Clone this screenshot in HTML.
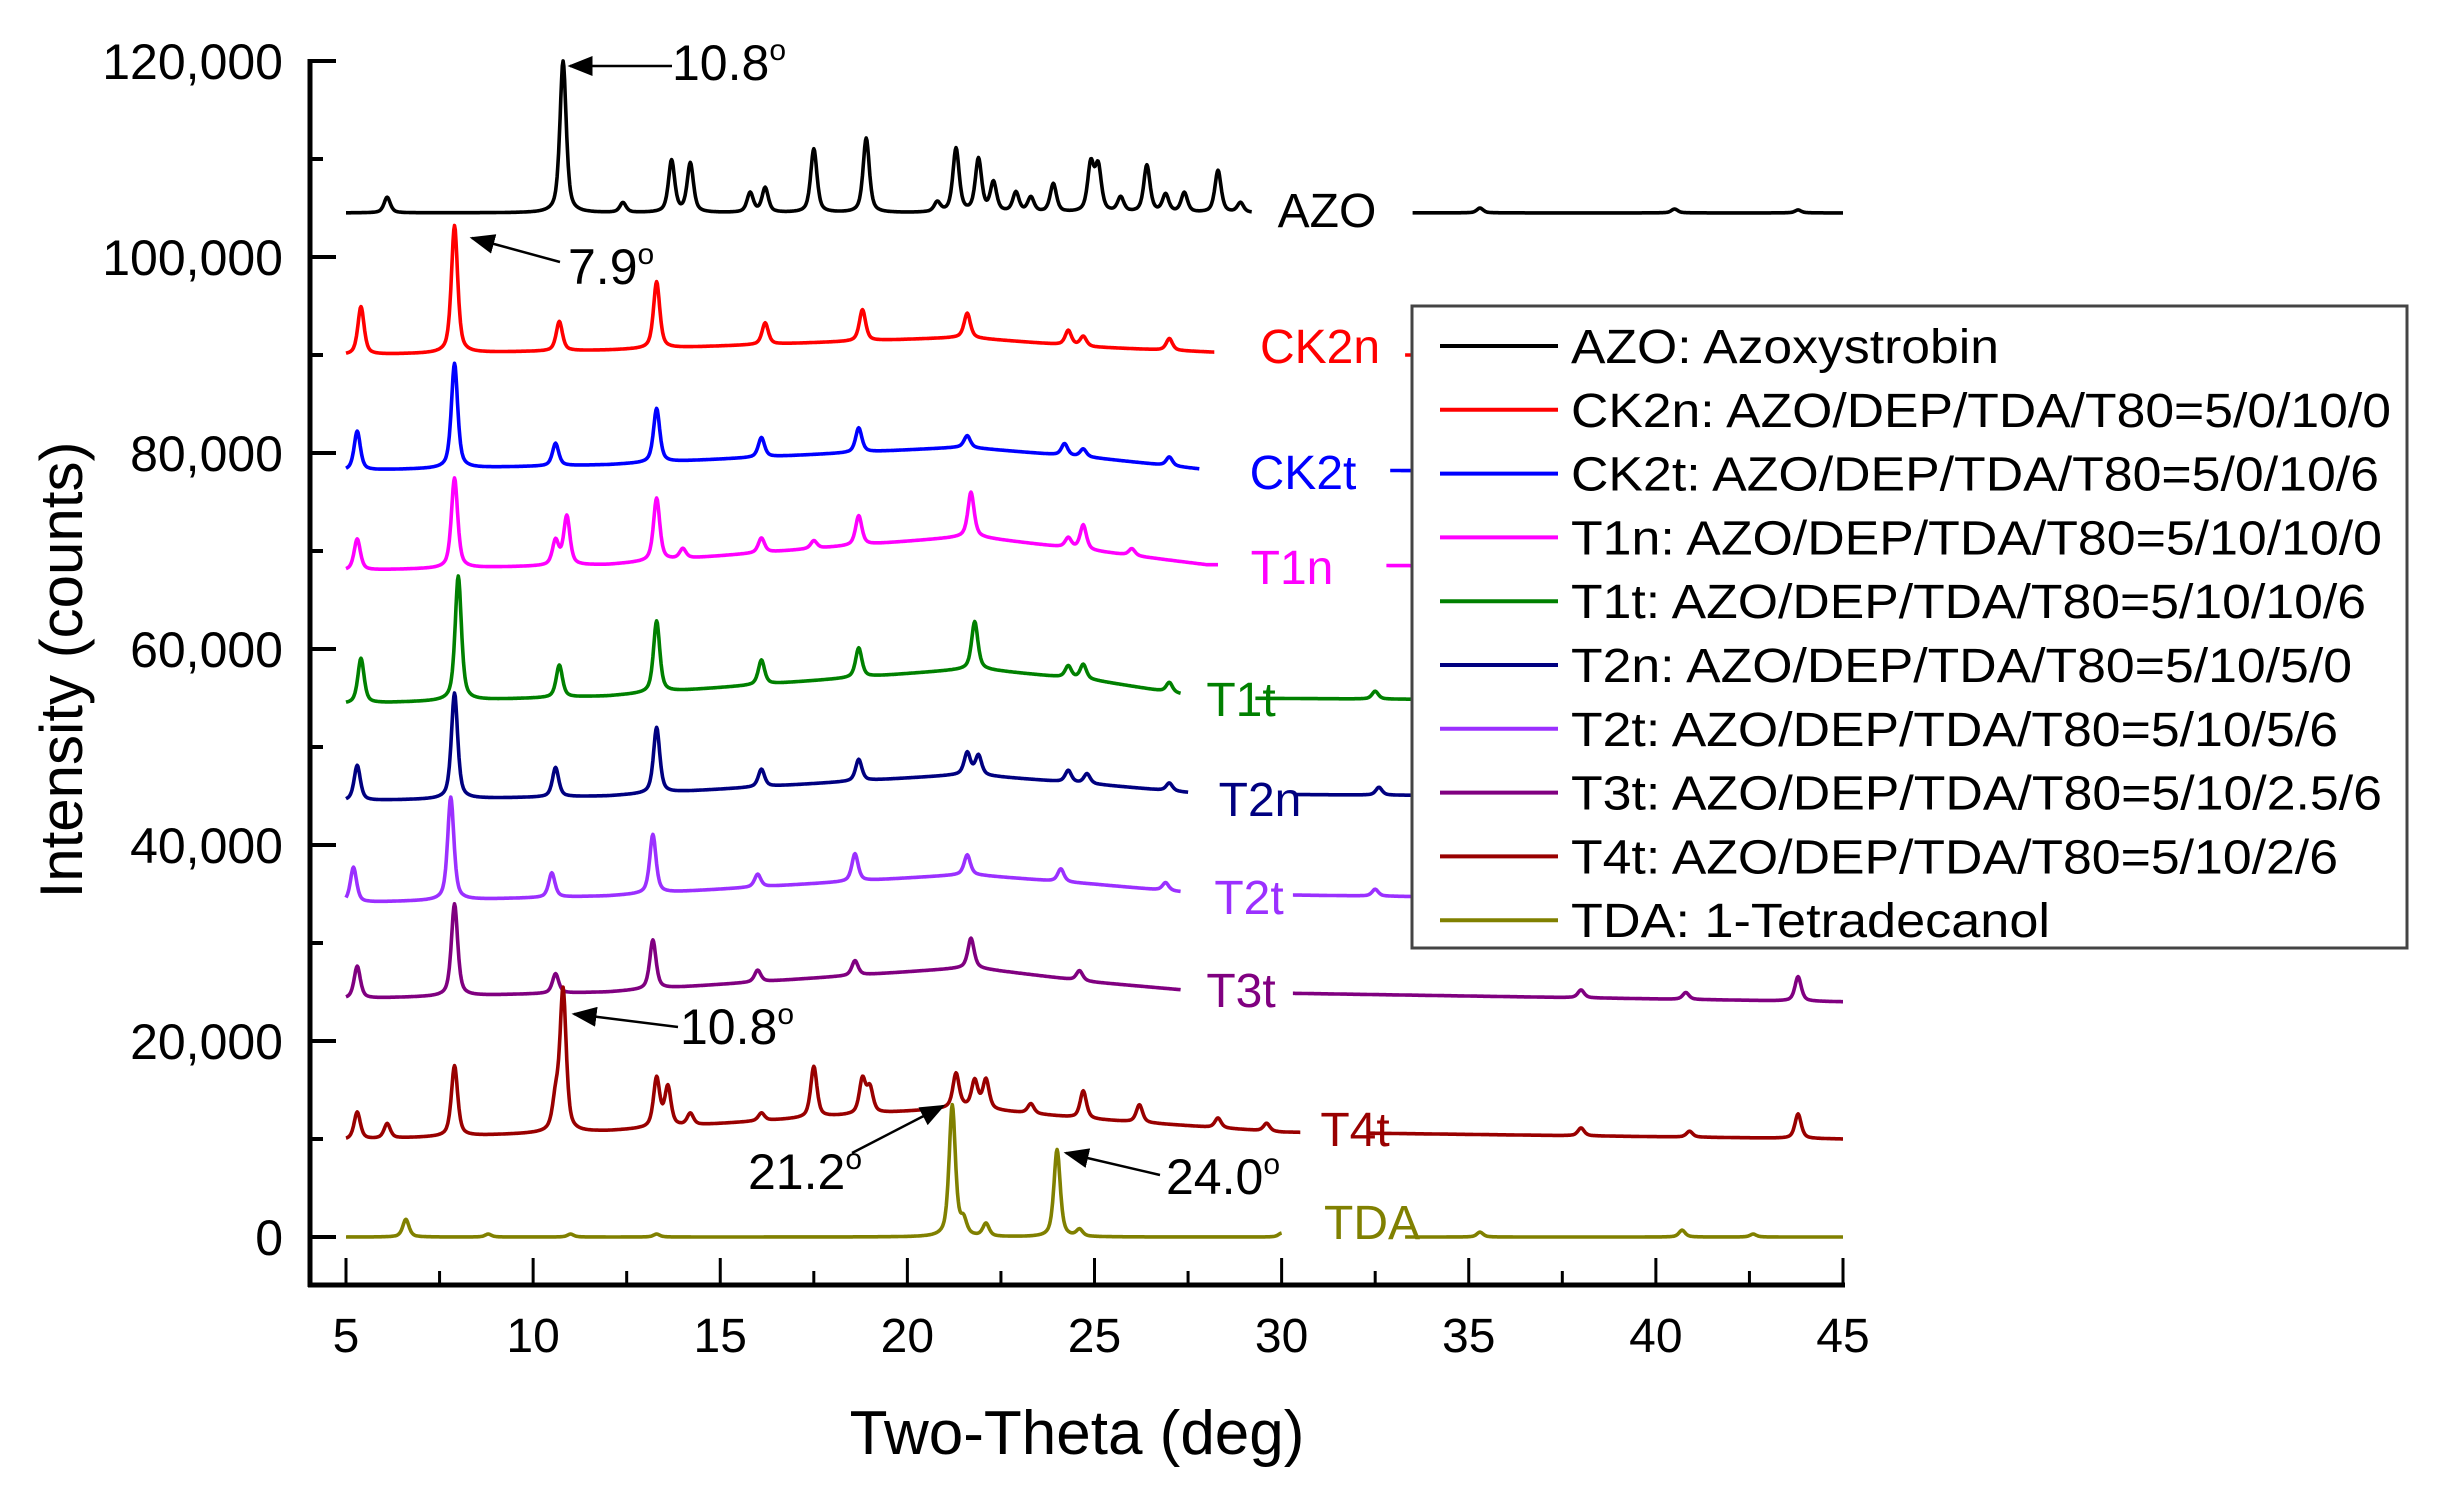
<!DOCTYPE html>
<html><head><meta charset="utf-8"><style>
html,body{margin:0;padding:0;background:#fff;}
svg{display:block;font-family:"Liberation Sans",Arial,sans-serif;}
</style></head><body>
<svg id="chart" width="2441" height="1490" viewBox="0 0 2441 1490" xmlns="http://www.w3.org/2000/svg">
<g id="series"></g>
<g id="axes"></g>
<g id="labels"></g>
<g id="legend"></g>
<g id="annot"></g>
</svg>
<script>
// ---- data ----
const xTicks=[5,10,15,20,25,30,35,40,45];
const yTicks=[0,20000,40000,60000,80000,100000,120000];
const yTickLabels=["0","20,000","40,000","60,000","80,000","100,000","120,000"];
const seriesNames=["AZO","CK2n","CK2t","T1n","T1t","T2n","T2t","T3t","T4t","TDA"];
const legendTexts=["AZO: Azoxystrobin","CK2n: AZO/DEP/TDA/T80=5/0/10/0","CK2t: AZO/DEP/TDA/T80=5/0/10/6","T1n: AZO/DEP/TDA/T80=5/10/10/0","T1t: AZO/DEP/TDA/T80=5/10/10/6","T2n: AZO/DEP/TDA/T80=5/10/5/0","T2t: AZO/DEP/TDA/T80=5/10/5/6","T3t: AZO/DEP/TDA/T80=5/10/2.5/6","T4t: AZO/DEP/TDA/T80=5/10/2/6","TDA: 1-Tetradecanol"];
const seriesColors=["#000000","#ff0000","#0000ff","#ff00ff","#008000","#000080","#9b30ff","#800080","#990000","#808000"];
const gapStart=[29.2,28.2,27.8,28.3,27.3,27.5,27.3,27.3,30.5,30.0];
const gapEnd=[33.5,33.3,32.9,32.8,29.3,30.4,30.3,30.3,32.3,33.3];
const azoBase=[[5,104500],[45,104500]];
const ck2nBase=[[5,90000],[12,90500],[21.5,91800],[25,90800],[30,90000],[45,90000]];
const ck2tBase=[[5,78200],[12,78800],[21.5,80600],[25,79500],[28,78300],[45,78000]];
const t1nBase=[[5,68000],[12,68600],[21.7,71500],[25,70000],[28,68600],[45,68300]];
const t1tBase=[[5,54400],[12,55200],[21.8,58000],[25,56800],[28,55000],[45,54600]];
const t2nBase=[[5,44500],[12,45000],[21.6,47200],[25,46200],[28,45200],[45,44800]];
const t2tBase=[[5,34100],[12,34800],[21.6,37000],[25,36000],[28,35000],[45,34200]];
const t3tBase=[[5,24300],[12,25000],[21.7,27500],[25,26000],[28,25000],[45,24000]];
const t4tBase=[[5,9900],[12,10800],[21.5,13200],[25,12000],[30,10700],[45,10000]];
const tdaBase=[[5,0],[45,0]];
const azoPeakPos=[6.1,10.8,12.4,13.7,14.2,15.8,16.2,17.5,18.9,20.8,21.3,21.9,22.3,22.9,23.3,23.9,24.9,25.1,25.7,26.4,26.9,27.4,28.3,28.9,35.3,40.5,43.8];
const azoPeakHeight=[1600,15500,1000,5300,5000,2000,2500,6500,7600,1000,6500,5400,3000,2000,1500,2900,4800,4500,1500,4800,1800,2000,4300,1000,500,400,300];
const ck2nPeakPos=[5.4,7.9,10.7,13.3,16.2,18.8,21.6,24.3,24.7,27.0];
const ck2nPeakHeight=[4900,13000,3000,6800,2200,3200,2500,1500,1000,1200];
const ck2tPeakPos=[5.3,7.9,10.6,13.3,16.1,18.7,21.6,24.2,24.7,27.0];
const ck2tPeakHeight=[4000,10700,2300,5500,2000,2500,1200,1200,800,900];
const t1nPeakPos=[5.3,7.9,10.6,10.9,13.3,14.0,16.1,17.5,18.7,21.7,24.3,24.7,26.0];
const t1nPeakHeight=[3200,9200,2500,5000,6400,1000,1500,800,3000,4500,1000,2500,700];
const t1tPeakPos=[5.4,8.0,10.7,13.3,16.1,18.7,21.8,24.3,24.7,27.0,32.5];
const t1tPeakHeight=[4600,12700,3300,7300,2500,3000,4800,1200,1500,1000,800];
const t2nPeakPos=[5.3,7.9,10.6,13.3,16.1,18.7,21.6,21.9,24.3,24.8,27.0,32.6];
const t2nPeakHeight=[3600,10800,3000,6700,1800,2200,2200,2000,1200,1000,800,800];
const t2tPeakPos=[5.2,7.8,10.5,13.2,16.0,18.6,21.6,24.1,26.9,32.5];
const t2tPeakHeight=[3600,10500,2500,6000,1300,2800,2000,1300,800,700];
const t3tPeakPos=[5.3,7.9,10.6,13.2,16.0,18.6,21.7,24.6,38.0,40.8,43.8];
const t3tPeakHeight=[3300,9400,2000,5000,1200,1500,3000,1000,800,700,2500];
const t4tPeakPos=[5.3,6.1,7.9,10.6,10.8,13.3,13.6,14.2,16.1,17.5,18.8,19.0,21.3,21.8,22.1,23.3,24.7,26.2,28.3,29.6,38.0,40.9,43.8];
const t4tPeakHeight=[2800,1500,7200,3000,14400,5000,4000,1200,800,5200,3500,2500,3500,2800,3000,1000,2800,1800,1000,800,800,600,2500];
const tdaPeakPos=[6.6,8.8,11.0,13.3,21.2,21.5,22.1,24.0,24.6,30.0,35.3,40.7,42.6];
const tdaPeakHeight=[1800,300,300,300,13400,1500,1300,8900,700,400,500,700,300];

const bases=[azoBase,ck2nBase,ck2tBase,t1nBase,t1tBase,t2nBase,t2tBase,t3tBase,t4tBase,tdaBase];
const peakPositions=[azoPeakPos,ck2nPeakPos,ck2tPeakPos,t1nPeakPos,t1tPeakPos,t2nPeakPos,t2tPeakPos,t3tPeakPos,t4tPeakPos,tdaPeakPos];
const peakHeights=[azoPeakHeight,ck2nPeakHeight,ck2tPeakHeight,t1nPeakHeight,t1tPeakHeight,t2nPeakHeight,t2tPeakHeight,t3tPeakHeight,t4tPeakHeight,tdaPeakHeight];

const NS="http://www.w3.org/2000/svg";
const X0=346,X1=1843,XMIN=5,XMAX=45;
const Y0=1237,Y1=61,YMAX=120000;
function xs(t){return X0+(t-XMIN)*(X1-X0)/(XMAX-XMIN);}
function ys(v){return Y0-v*(Y0-Y1)/YMAX;}
function mk(tag,attrs,parent){const e=document.createElementNS(NS,tag);for(const k in attrs)e.setAttribute(k,attrs[k]);parent.appendChild(e);return e;}
function baseAt(b,t){for(let i=0;i<b.length-1;i++){if(t>=b[i][0]&&t<=b[i+1][0]){const f=(t-b[i][0])/(b[i+1][0]-b[i][0]);return b[i][1]+f*(b[i+1][1]-b[i][1]);}}return b[b.length-1][1];}
function val(s,t){let v=baseAt(bases[s],t);const P=peakPositions[s],H=peakHeights[s];const w=0.1;
 for(let i=0;i<P.length;i++){const d=(t-P[i])/w;v+=H[i]*(0.4*Math.exp(-0.693*d*d)+0.6/(1+d*d));}return v;}

const gS=document.getElementById('series');
for(let s=0;s<seriesNames.length;s++){
 const segs=[[XMIN,gapStart[s]],[gapEnd[s],XMAX]];
 segs.forEach((sg,k)=>{
  let d="";for(let t=sg[0];t<=sg[1]+1e-9;t+=0.02){d+=(d?"L":"M")+xs(t).toFixed(1)+","+ys(val(s,t)).toFixed(1);}
  const p=mk('path',{d:d,fill:"none",stroke:seriesColors[s],"stroke-width":3.6,"stroke-linejoin":"round"},gS);
  
  
 });
}

const gA=document.getElementById('axes');
const yAx=mk('line',{x1:310,y1:59,x2:310,y2:1287,stroke:"#000","stroke-width":5},gA);


const xAx=mk('line',{x1:308,y1:1285,x2:1845,y2:1285,stroke:"#000","stroke-width":5},gA);


yTicks.forEach((v,i)=>{
 mk('line',{x1:310,y1:ys(v),x2:336,y2:ys(v),stroke:"#000","stroke-width":4},gA);
 if(i<yTicks.length-1)mk('line',{x1:310,y1:ys(v+10000),x2:323,y2:ys(v+10000),stroke:"#000","stroke-width":4},gA);
 const t=mk('text',{x:283,y:ys(v)+18,"text-anchor":"end","font-size":50,fill:"#000"},gA);t.textContent=yTickLabels[i];
 
 
});
xTicks.forEach((v,i)=>{
 mk('line',{x1:xs(v),y1:1285,x2:xs(v),y2:1258,stroke:"#000","stroke-width":3},gA);
 if(i<xTicks.length-1)mk('line',{x1:xs(v+2.5),y1:1285,x2:xs(v+2.5),y2:1271,stroke:"#000","stroke-width":3},gA);
 const t=mk('text',{x:xs(v),y:1352,"text-anchor":"middle","font-size":48,fill:"#000"},gA);t.textContent=String(v);
 
 
});
const xt=mk('text',{x:1077,y:1454,"text-anchor":"middle","font-size":62,fill:"#000"},gA);xt.textContent="Two-Theta (deg)";


const yt=mk('text',{x:0,y:0,"text-anchor":"middle","font-size":60,fill:"#000",transform:"translate(82,670) rotate(-90)"},gA);yt.textContent="Intensity (counts)";



const labelPos=[[1327,210],[1320,346],[1303,472],[1292,567],[1241,699],[1260,799],[1249,897],[1241,990],[1355,1129],[1372,1222]];
const gL=document.getElementById('labels');
seriesNames.forEach((n,i)=>{
 const t=mk('text',{x:labelPos[i][0],y:labelPos[i][1]+17,"text-anchor":"middle","font-size":48,fill:seriesColors[i]},gL);t.textContent=n;
 
 
});

const gG=document.getElementById('legend');
const lb=mk('rect',{x:1412,y:306,width:995,height:642,fill:"#fff",stroke:"#444","stroke-width":3},gG);


const legW=[428,820,808,811,795,781,767,811,767,479];
legendTexts.forEach((s,i)=>{
 const y=346+i*63.8;
 const g=mk('g',{},gG);
 
 
 mk('line',{x1:1440,y1:y,x2:1558,y2:y,stroke:seriesColors[i],"stroke-width":4},g);
 const t=mk('text',{x:1571,y:y+17,"font-size":48,fill:"#000",textLength:legW[i],lengthAdjust:"spacingAndGlyphs"},g);t.textContent=s;
});

const gN=document.getElementById('annot');
const defs=mk('defs',{},gN);
const mkr=mk('marker',{id:"ah",markerWidth:10,markerHeight:8,refX:9,refY:4,orient:"auto",markerUnits:"strokeWidth"},defs);
mk('path',{d:"M0,0 L10,4 L0,8 z",fill:"#000"},mkr);
const ann=[
 {x1:672,y1:66,x2:570,y2:66,tx:672,ty:80,lab:"10.8"},
 {x1:560,y1:262,x2:472,y2:238,tx:568,ty:284,lab:"7.9"},
 {x1:678,y1:1027,x2:574,y2:1014,tx:680,ty:1044,lab:"10.8"},
 {x1:852,y1:1153,x2:943,y2:1106,tx:748,ty:1189,lab:"21.2"},
 {x1:1160,y1:1175,x2:1066,y2:1153,tx:1166,ty:1194,lab:"24.0"}
];
ann.forEach((a,i)=>{
 const l=mk('line',{x1:a.x1,y1:a.y1,x2:a.x2,y2:a.y2,stroke:"#000","stroke-width":2.5,"marker-end":"url(#ah)"},gN);
 
 
 const t=mk('text',{x:a.tx,y:a.ty,"font-size":50,fill:"#000"},gN);
 t.textContent=a.lab;
 const sp=mk('tspan',{dy:-20,"font-size":30},t);sp.textContent="o";
 
 
});
</script>
</body></html>
